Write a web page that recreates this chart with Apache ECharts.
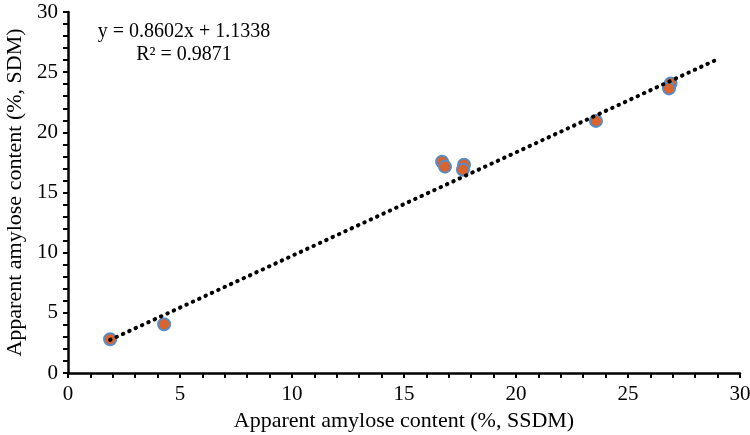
<!DOCTYPE html>
<html>
<head>
<meta charset="utf-8">
<script src="https://cdn.jsdelivr.net/npm/echarts@6/dist/echarts.min.js"></script>
<style>html,body{margin:0;padding:0;background:#fff}#c{width:750px;height:435px}</style>
</head>
<body>
<div id="c"></div>
<script>
// Measured points (x: SSDM, y: SDM)
var xValues = [1.88, 4.29, 16.7, 16.83, 17.68, 17.63, 23.57, 26.9, 26.83];
var yValues = [2.8, 4.05, 17.55, 17.15, 17.3, 16.9, 20.95, 24.05, 23.65];
// Trendline endpoints
var trendX = [1.88, 28.9];
var trendY = [2.75, 25.99];
var equationText = ['y = 0.8602x + 1.1338', 'R\u00b2 = 0.9871'];
var xTitle = 'Apparent amylose content (%, SSDM)';
var yTitle = 'Apparent amylose content (%, SDM)';

var scatterData = xValues.map(function (x, i) { return [x, yValues[i]]; });
var trendData = trendX.map(function (x, i) { return [x, trendY[i]]; });

var font = 'Liberation Serif';
var chart = echarts.init(document.getElementById('c'));
chart.setOption({
  animation: false,
  backgroundColor: '#fff',
  grid: { left: 68, right: 10, top: 12, bottom: 62, containLabel: false, outerBoundsMode: 'none' },
  xAxis: {
    type: 'value', min: 0, max: 30, interval: 5,
    name: xTitle, nameLocation: 'middle', nameGap: 35,
    nameTextStyle: { fontFamily: font, fontSize: 22, color: '#000' },
    axisLine: { show: true, onZero: false, lineStyle: { color: '#000', width: 2.5 } },
    axisTick: { show: true, length: 5, lineStyle: { color: '#000', width: 2 } },
    minorTick: { show: true, splitNumber: 5, length: 5, lineStyle: { color: '#000', width: 2 } },
    axisLabel: { fontFamily: font, fontSize: 21, color: '#000', margin: 11 },
    splitLine: { show: false }
  },
  yAxis: {
    type: 'value', min: 0, max: 30, interval: 5,
    name: yTitle, nameLocation: 'middle', nameGap: 40, nameRotate: 90,
    nameTextStyle: { fontFamily: font, fontSize: 22, color: '#000' },
    axisLine: { show: true, onZero: false, lineStyle: { color: '#000', width: 2.5 } },
    axisTick: { show: true, length: 5, lineStyle: { color: '#000', width: 2 } },
    minorTick: { show: true, splitNumber: 5, length: 5, lineStyle: { color: '#000', width: 2 } },
    axisLabel: { fontFamily: font, fontSize: 21, color: '#000', margin: 10 },
    splitLine: { show: false }
  },
  series: [
    {
      type: 'line', data: trendData, symbol: 'none', z: 3,
      lineStyle: { color: '#000', width: 4, type: [0.5, 6.5], cap: 'round' }
    },
    {
      type: 'scatter', data: scatterData, symbol: 'circle', symbolSize: 12, z: 2,
      itemStyle: { color: '#D9642E', borderColor: '#5A8CC4', borderWidth: 2, opacity: 1 }
    }
  ],
  graphic: [
    { type: 'text', style: { x: 184, y: 32, text: equationText[0], align: 'center', verticalAlign: 'middle', font: '20px "Liberation Serif"', fill: '#000' } },
    { type: 'text', style: { x: 184, y: 55, text: equationText[1], align: 'center', verticalAlign: 'middle', font: '20px "Liberation Serif"', fill: '#000' } }
  ]
});
</script>
</body>
</html>
